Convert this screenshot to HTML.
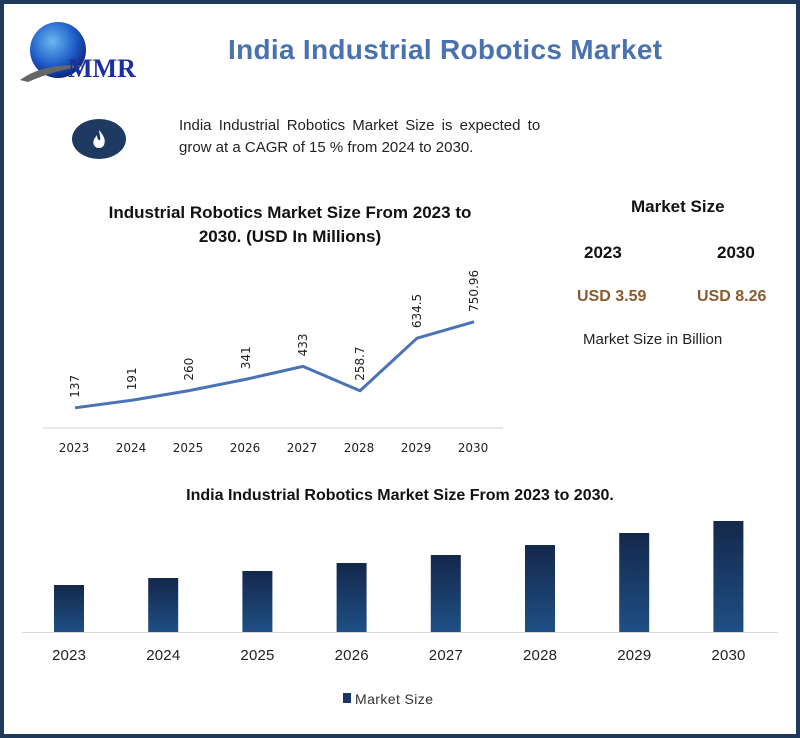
<!DOCTYPE html>
<html><head><meta charset="utf-8">
<style>
html,body{margin:0;padding:0;background:#fff;}
body{width:800px;height:738px;position:relative;overflow:hidden;font-family:"Liberation Sans",sans-serif;}
#frame{position:absolute;left:0;top:0;width:792px;height:730px;border:4px solid #1f3a5a;}
.t{position:absolute;white-space:nowrap;}
</style></head>
<body>
<div id="frame"></div>
<svg width="800" height="738" style="position:absolute;left:0;top:0">
  <defs>
    <radialGradient id="globe" cx="40%" cy="35%" r="70%"><stop offset="0" stop-color="#6ab8f0"/><stop offset="0.6" stop-color="#1e5cc8"/><stop offset="1" stop-color="#0a1f70"/></radialGradient>
    <linearGradient id="barg" x1="0" y1="0" x2="0" y2="1"><stop offset="0" stop-color="#14284a"/><stop offset="1" stop-color="#1f4f85"/></linearGradient>
  </defs>
  <g>
    <circle cx="58" cy="50" r="28" fill="url(#globe)"/>
    <path d="M20,80 Q45,62 85,66 Q55,70 28,82 Z" fill="#666"/>
    <text x="68" y="77" font-family="Liberation Serif" font-weight="bold" font-size="26" fill="#1b2fa0">MMR</text>
  </g>
  <g>
    <ellipse cx="99" cy="139" rx="27" ry="20" fill="#1f3a60"/>
    <path d="M99,130 C104,136 106,140 104,145 C102,149 96,149 94,145 C92,141 95,138 97,135 C97,139 99,141 100,140 C101,137 99,133 99,130 Z" fill="#fff"/>
  </g>
  <g id="line-chart"></g>
  <g id="bar-chart"></g>
</svg>

<div class="t" style="left:228px;top:34px;font-size:28px;font-weight:bold;color:#4a72b0;letter-spacing:0.3px;">India Industrial Robotics Market</div>
<div class="t" style="left:179px;top:115px;font-size:15px;color:#222;line-height:22px;word-spacing:3px;">India Industrial Robotics Market Size is expected to<br><span style="word-spacing:0">grow at a CAGR of 15 % from 2024 to 2030.</span></div>
<div class="t" style="left:80px;top:201px;width:420px;text-align:center;font-size:17px;font-weight:bold;color:#111;line-height:24px;white-space:normal;">Industrial Robotics Market Size From 2023 to<br>2030. (USD In Millions)</div>
<div class="t" style="left:631px;top:197px;font-size:17px;font-weight:bold;color:#111;">Market Size</div>
<div class="t" style="left:584px;top:243px;font-size:17px;font-weight:bold;color:#111;">2023</div>
<div class="t" style="left:717px;top:243px;font-size:17px;font-weight:bold;color:#111;">2030</div>
<div class="t" style="left:577px;top:288px;font-size:16px;font-weight:bold;color:#8c5a2c;">USD 3.59</div>
<div class="t" style="left:697px;top:288px;font-size:16px;font-weight:bold;color:#8c5a2c;">USD 8.26</div>
<div class="t" style="left:583px;top:331px;font-size:15px;color:#222;">Market Size in Billion</div>
<div class="t" style="left:0;width:800px;text-align:center;top:487px;font-size:16px;font-weight:bold;color:#111;">India Industrial Robotics Market Size From 2023 to 2030.</div>

<script>
const lineYears = ["2023","2024","2025","2026","2027","2028","2029","2030"];
const lineValues = [137,191,260,341,433,258.7,634.5,750.96];
const lineLabels = ["137","191","260","341","433","258.7","634.5","750.96"];
const barYears = ["2023","2024","2025","2026","2027","2028","2029","2030"];
const barValues = [47,54,61,69,77,87,99,111];

const NS="http://www.w3.org/2000/svg";
function mk(tag, attrs, parent){const e=document.createElementNS(NS,tag);for(const k in attrs)e.setAttribute(k,attrs[k]);parent.appendChild(e);return e;}

const lg=document.getElementById('line-chart');
const lx=i=>75+i*57;
const ly=v=>427-v*0.14;
const axis=mk('line',{x1:43,x2:503,y1:428,y2:428,stroke:'#d0d0d0','stroke-width':1},lg);


const pts=lineValues.map((v,i)=>lx(i)+','+ly(v)).join(' ');
const pl=mk('polyline',{points:pts,fill:'none',stroke:'#4a72b8','stroke-width':3,'stroke-linejoin':'round'},lg);


lineValues.forEach((v,i)=>{
  const x=lx(i), y=ly(v)-10;
  const t=mk('text',{x:x+4,y:y,transform:`rotate(-90 ${x+4} ${y})`,'font-size':12,fill:'#222','font-family':'DejaVu Sans, sans-serif'},lg);
  t.textContent=lineLabels[i];
  
  
  const yt=mk('text',{x:x-1,y:452,'text-anchor':'middle','font-size':12,fill:'#222','font-family':'DejaVu Sans, sans-serif'},lg);
  yt.textContent=lineYears[i];
  
  
});

const bg=document.getElementById('bar-chart');
const bx=i=>69+i*94.2;
const by=v=>632-v;
const bax=mk('line',{x1:22,x2:778,y1:632.5,y2:632.5,stroke:'#d8d8d8','stroke-width':1},bg);


barValues.forEach((v,i)=>{
  const r=mk('rect',{x:bx(i)-15,y:by(v),width:30,height:632-by(v),fill:'url(#barg)'},bg);
  
  
  const t=mk('text',{x:bx(i),y:660,'text-anchor':'middle','font-size':15,fill:'#222','textLength':34},bg);
  t.textContent=barYears[i];
  
  
});
const lsw=mk('rect',{x:343,y:693,width:8,height:10,fill:'#1a3560'},bg);


const lt=mk('text',{x:355,y:704,'font-size':14,fill:'#333','textLength':78},bg);
lt.textContent='Market Size';


</script>
</body></html>
